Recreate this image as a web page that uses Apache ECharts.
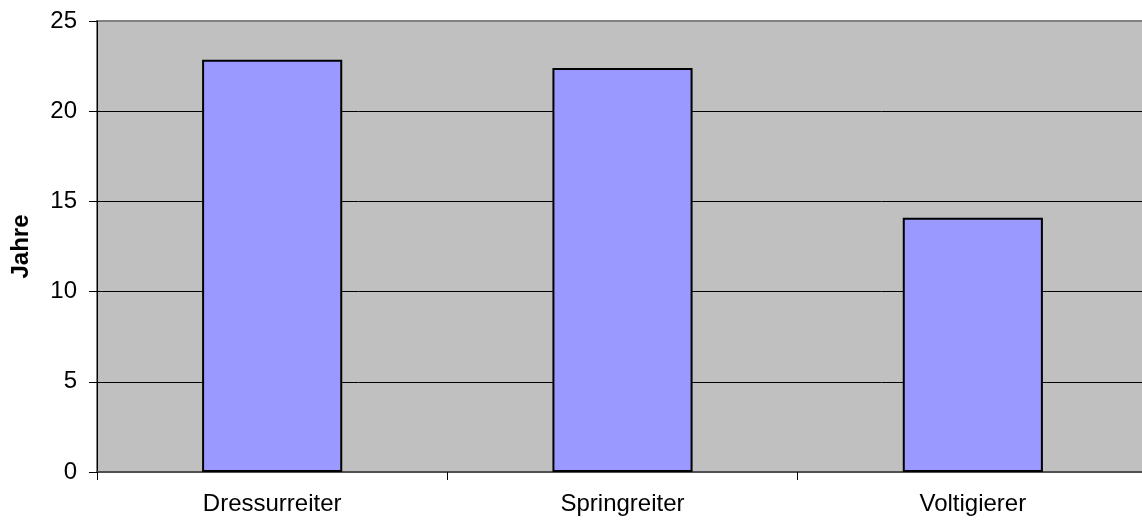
<!DOCTYPE html>
<html>
<head>
<meta charset="utf-8">
<script src="https://cdn.jsdelivr.net/npm/echarts@6/dist/echarts.min.js"></script>
<style>
  html, body { margin: 0; padding: 0; background: #fff; }
  #chart { width: 1142px; height: 524px; }
</style>
</head>
<body>
<div id="chart"></div>
<script>
// Average age per discipline (years)
const categories = ['Dressurreiter', 'Springreiter', 'Voltigierer'];
const ages = [22.85, 22.39, 14.09];
const yTicks = { min: 0, max: 25, interval: 5 };

const chart = echarts.init(document.getElementById('chart'), null, { renderer: 'canvas' });
const font = 'Arial, "Liberation Sans", sans-serif';

chart.setOption({
  animation: false,
  backgroundColor: '#ffffff',
  grid: {
    left: 97, width: 1051, top: 21, bottom: 52,
    outerBoundsMode: 'none',
    containLabel: false,
    show: true,
    backgroundColor: '#c0c0c0',
    borderColor: '#808080',
    borderWidth: 2
  },
  xAxis: {
    type: 'category',
    data: categories,
    axisLine: { show: true, lineStyle: { color: '#505050', width: 2 } },
    axisTick: { show: true, alignWithLabel: false, length: 8, lineStyle: { color: '#000', width: 1 } },
    axisLabel: { color: '#000', fontFamily: font, fontSize: 24, margin: 20 },
    splitLine: { show: false }
  },
  yAxis: {
    type: 'value',
    min: yTicks.min, max: yTicks.max, interval: yTicks.interval,
    name: 'Jahre',
    nameLocation: 'middle',
    nameGap: 64,
    nameRotate: 90,
    nameTextStyle: { color: '#000', fontFamily: font, fontSize: 24, fontWeight: 'bold' },
    axisLine: { show: true, lineStyle: { color: '#000', width: 1 } },
    axisTick: { show: true, length: 8, lineStyle: { color: '#000', width: 1 } },
    axisLabel: { color: '#000', fontFamily: font, fontSize: 24, margin: 20 },
    splitLine: { show: true, showMinLine: false, showMaxLine: false, lineStyle: { color: '#000', width: 1 } }
  },
  series: [{
    type: 'bar',
    data: ages,
    barWidth: '40%',
    itemStyle: { color: '#9999ff', borderColor: '#000', borderWidth: 2 }
  }]
});
</script>
</body>
</html>
